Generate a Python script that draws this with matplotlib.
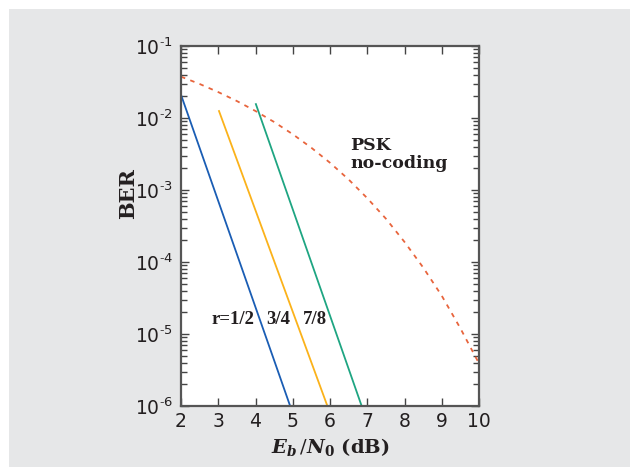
import matplotlib.pyplot as plt
from matplotlib.patches import Rectangle
from matplotlib.ticker import FixedLocator, LogLocator, NullFormatter

# coded curves (r = 1/2, 3/4, 7/8): straight lines on the log plot
r12_x = [2.0, 4.93]
r12_ber = [0.021, 1e-6]
r34_x = [3.02, 5.93]
r34_ber = [0.0125, 1e-6]
r78_x = [4.01, 6.85]
r78_ber = [0.0156, 1e-6]

# uncoded PSK
psk_x = [2.0, 2.5, 3.0, 3.5, 4.0, 4.5, 5.0, 5.5, 6.0, 6.5, 7.0, 7.5, 8.0, 8.5, 9.0, 9.5, 10.0]
psk_ber = [0.0375, 0.0297, 0.0229, 0.0172, 0.0125, 0.0088, 0.00595, 0.00386, 0.00239,
           0.0014, 0.00077, 0.0004, 0.00019, 8.4e-5, 3.4e-5, 1.2e-5, 3.9e-6]

rate_labels = ['r=1/2', '3/4', '7/8']
rate_label_x = [2.83, 4.28, 5.28]

x_ticks = [2, 3, 4, 5, 6, 7, 8, 9, 10]
y_ticks = [1e-6, 1e-5, 1e-4, 1e-3, 1e-2, 1e-1]
y_exps = ['6', '5', '4', '3', '2', '1']

plt.rcParams['mathtext.fontset'] = 'dejavuserif'

fig = plt.figure(figsize=(6.30, 4.67), dpi=100)
fig.patch.set_facecolor('white')
fig.patches.append(Rectangle((9 / 630, 0), 1, 1 - 9 / 467, transform=fig.transFigure,
                             facecolor='#e6e7e8', edgecolor='none', zorder=-10))

ax = fig.add_axes([181 / 630, 1 - 406 / 467, 298 / 630, 360 / 467])
ax.set_facecolor('white')

ax.plot(r12_x, r12_ber, color='#1a5db4', lw=1.3)
ax.plot(r34_x, r34_ber, color='#fbb21a', lw=1.3)
ax.plot(r78_x, r78_ber, color='#1ea582', lw=1.3)
ax.plot(psk_x, psk_ber, color='#e8643c', lw=1.3, dashes=(2.5, 3))

ax.set_yscale('log')
ax.set_xlim(2, 10)
ax.set_ylim(1e-6, 1e-1)

ax.xaxis.set_major_locator(FixedLocator(x_ticks))
ax.set_xticklabels([str(v) for v in x_ticks], fontsize=13.5, color='#231f20')
ax.yaxis.set_major_locator(FixedLocator(y_ticks))
ax.set_yticklabels([r'$\mathregular{10^{\text{-}%s}}$' % e for e in y_exps],
                   fontsize=13.5, color='#231f20')
ax.yaxis.set_minor_locator(LogLocator(base=10, subs=range(2, 10)))
ax.yaxis.set_minor_formatter(NullFormatter())

ax.tick_params(which='both', direction='in', top=True, right=True,
               color='#444444', width=1.0)
ax.tick_params(which='major', length=6, pad=4)
ax.tick_params(which='minor', length=4)
ax.tick_params(axis='y', which='major', pad=6)
for s in ax.spines.values():
    s.set_color('#555555')
    s.set_linewidth(1.6)

ax.set_ylabel('BER', family='DejaVu Serif', fontweight='bold', fontsize=15,
              color='#231f20')
ax.yaxis.set_label_coords(-0.145, 0.59)
ax.set_xlabel(r'$\mathbfit{E}_{\mathbfit{b}}\,/\mathbfit{N}_{\mathbf{0}}$ (dB)',
              family='DejaVu Serif', fontweight='bold', fontsize=14,
              color='#231f20', labelpad=4)

ax.text(6.55, 5.5e-3, 'PSK\nno-coding', family='DejaVu Serif', fontweight='bold',
        fontsize=12.5, color='#231f20', ha='left', va='top', linespacing=1.1)
for lbl, lx in zip(rate_labels, rate_label_x):
    ax.text(lx, 1.6e-5, lbl, family='Liberation Serif', fontweight='bold',
            fontsize=13.5, color='#231f20', ha='left', va='center')

plt.savefig('out.png', dpi=100)
plt.close()
